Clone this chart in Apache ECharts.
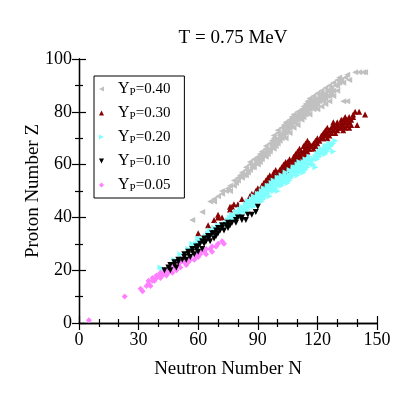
<!DOCTYPE html>
<html>
<head>
<meta charset="utf-8">
<script src="https://cdn.jsdelivr.net/npm/echarts@6/dist/echarts.min.js"></script>
<style>
html, body { margin: 0; padding: 0; background: #fff; }
#chart { width: 415px; height: 405px; }
</style>
</head>
<body>
<div id="chart"></div>
<script>
// Yp values shown in the legend
const ypNames = ['0.40', '0.30', '0.20', '0.10', '0.05'];

// [N, Z]
const yp040 = [[57,39],[62,42],[66,46],[68,46],[68,47],[70,48],[72,49],[72,50],[74,50],[75,51],[76,50],[76,52],[78,52],[78,54],[79,53],[80,54],[80,55],[81,56],[82,55],[82,57],[83,56],[84,56],[84,58],[84,59],[85,57],[86,58],[86,60],[86,61],[87,59],[88,59],[88,60],[88,62],[89,61],[90,60],[90,62],[90,63],[91,61],[91,64],[92,62],[92,63],[92,65],[93,64],[94,63],[94,65],[94,66],[94,67],[95,64],[96,65],[96,66],[96,68],[97,67],[97,69],[98,66],[98,68],[98,70],[98,71],[99,67],[99,69],[100,68],[100,70],[100,72],[100,73],[101,69],[101,71],[102,70],[102,72],[102,74],[103,71],[103,73],[103,75],[104,70],[104,72],[104,74],[104,76],[105,73],[105,75],[106,72],[106,74],[106,76],[106,77],[107,75],[107,78],[108,74],[108,76],[108,77],[108,79],[109,76],[109,78],[110,75],[110,77],[110,79],[110,80],[111,78],[111,80],[112,77],[112,79],[112,81],[113,78],[113,80],[113,82],[114,79],[114,81],[114,83],[115,80],[115,82],[115,84],[116,79],[116,81],[116,83],[116,85],[117,82],[117,84],[118,81],[118,83],[118,85],[118,86],[119,82],[119,84],[120,81],[120,83],[120,85],[120,87],[121,84],[121,86],[122,82],[122,85],[122,87],[122,88],[123,84],[123,86],[124,83],[124,85],[124,87],[124,89],[125,86],[125,88],[126,84],[126,86],[126,88],[126,90],[127,87],[127,89],[128,86],[128,88],[128,91],[129,90],[130,88],[130,90],[130,92],[131,91],[131,93],[132,92],[133,84],[133,91],[134,93],[135,84],[135,94],[136,92],[139,95],[141,95],[143,95],[144,95]];

const yp030 = [[60,34],[65,37],[68,39],[70,40],[70,41],[72,40],[76,43],[76,44],[77,44],[78,45],[80,45],[82,47],[84,46],[86,48],[87,47],[87,49],[88,48],[89,49],[89,50],[90,48],[90,50],[90,51],[91,49],[92,51],[92,52],[93,53],[94,52],[94,54],[95,53],[95,55],[96,52],[96,54],[96,56],[97,53],[97,55],[98,54],[98,56],[98,57],[99,55],[99,58],[100,56],[100,57],[101,56],[101,58],[102,57],[102,59],[103,58],[103,59],[103,60],[104,57],[104,59],[104,61],[105,58],[105,60],[105,61],[106,59],[106,60],[106,62],[107,61],[108,60],[108,62],[108,63],[109,61],[109,63],[109,64],[110,62],[110,63],[110,65],[111,63],[111,64],[111,66],[112,62],[112,64],[112,65],[113,63],[113,65],[113,67],[114,64],[114,66],[114,68],[115,65],[115,66],[115,67],[115,69],[116,66],[116,68],[117,67],[118,66],[118,68],[119,67],[119,69],[120,68],[120,70],[121,69],[122,70],[122,71],[123,70],[123,72],[124,71],[124,72],[124,73],[125,70],[125,72],[125,74],[126,71],[126,73],[127,72],[127,74],[128,73],[128,75],[128,76],[129,72],[129,74],[130,73],[130,75],[130,76],[131,74],[132,74],[132,75],[132,76],[132,77],[133,73],[133,75],[133,77],[134,74],[134,76],[134,78],[135,75],[135,77],[136,74],[136,76],[136,78],[137,75],[137,77],[138,78],[138,79],[139,80],[140,75],[141,80],[144,79]];

const yp020 = [[41,21],[42,20],[48,24],[51,26],[55,28],[57,29],[57,30],[59,30],[60,31],[60,32],[62,32],[64,33],[65,34],[66,33],[66,35],[68,34],[68,36],[70,35],[70,37],[71,36],[72,37],[74,37],[74,38],[75,39],[76,38],[76,40],[77,39],[77,41],[78,40],[79,41],[79,42],[80,40],[80,42],[81,41],[81,43],[82,42],[82,44],[83,43],[84,42],[84,44],[84,45],[85,43],[85,45],[85,46],[86,44],[86,46],[87,45],[87,47],[88,44],[88,46],[88,48],[89,45],[89,47],[90,46],[90,48],[90,49],[91,47],[91,49],[92,46],[92,48],[92,50],[93,47],[93,49],[93,51],[94,48],[94,50],[95,49],[95,51],[95,52],[96,48],[96,50],[96,52],[97,51],[97,53],[98,50],[98,52],[98,54],[99,51],[99,53],[100,50],[100,52],[100,54],[100,55],[101,53],[101,55],[102,52],[102,54],[102,56],[103,53],[103,55],[104,54],[104,56],[104,57],[105,53],[105,55],[106,54],[106,56],[106,58],[107,55],[107,57],[108,56],[108,58],[108,59],[109,57],[109,59],[110,56],[110,58],[110,60],[111,57],[111,59],[111,61],[112,58],[112,60],[113,57],[113,59],[113,61],[114,58],[114,60],[114,62],[115,59],[115,61],[116,60],[116,62],[116,63],[117,61],[118,60],[118,62],[119,59],[119,63],[120,62],[120,64],[121,63],[121,65],[122,64],[122,66],[123,65],[124,64],[124,66],[124,67],[125,65],[125,67],[126,66],[126,68],[127,67],[128,65],[128,68],[129,69]];

const yp010 = [[43,20],[45,21],[46,20],[46,22],[48,22],[48,23],[49,21],[50,23],[50,24],[52,24],[53,25],[53,26],[54,24],[55,26],[55,27],[56,25],[57,27],[57,28],[58,26],[59,28],[59,29],[60,27],[60,29],[61,30],[62,28],[62,31],[63,30],[63,32],[64,31],[65,32],[65,33],[66,31],[66,33],[67,34],[68,32],[68,34],[69,33],[69,35],[70,34],[70,36],[71,35],[72,36],[72,37],[73,35],[74,37],[75,36],[75,38],[76,37],[77,38],[79,38],[79,39],[80,40],[82,39],[82,40],[84,39],[85,41],[87,41],[89,42],[90,44]];

const yp005 = [[5,1],[23,10],[31,13],[32,12],[34,14],[35,15],[35,16],[36,14],[37,16],[37,17],[38,16],[39,17],[39,18],[40,18],[41,17],[41,19],[42,18],[43,19],[43,20],[44,18],[44,20],[45,19],[46,20],[46,21],[47,19],[48,21],[48,22],[49,20],[50,22],[51,21],[51,23],[53,23],[54,22],[54,24],[55,23],[56,24],[56,25],[58,24],[59,25],[59,26],[60,25],[61,26],[61,27],[63,27],[64,26],[64,28],[66,28],[67,27],[67,29],[69,29],[70,30],[72,31],[73,30]];

const xTicks = [0, 30, 60, 90, 120, 150];
const yTicks = [0, 20, 40, 60, 80, 100];

const font = 'Liberation Serif';
// triangle shapes pointing left / right / down
const triLeft = 'path://M0,5 L10,0 L10,10 Z';
const triRight = 'path://M10,5 L0,0 L0,10 Z';
const triDown = 'path://M0,0 L10,0 L5,10 Z';
const triUp = 'path://M5,0 L10,10 L0,10 Z';

const chart = echarts.init(document.getElementById('chart'));

function scatter(name, data, symbol, color, size, z) {
    return {
        name: name,
        type: 'scatter',
        data: data,
        symbol: symbol,
        symbolSize: size,
        itemStyle: { color: color, opacity: 1 },
        z: z
    };
}

const frameAxis = {
    type: 'value',
    axisLine: { show: true, lineStyle: { color: '#000', width: 1.3 } },
    axisTick: { show: true, inside: true, length: 7, lineStyle: { color: '#000', width: 1.2 } },
    minorTick: { show: true, length: 4, lineStyle: { color: '#000', width: 1.2 } },
    splitLine: { show: false }
};

let option = {
    animation: false,
    backgroundColor: '#fff',
    title: {
        text: 'T = 0.75 MeV',
        left: 228,
        top: 24,
        textAlign: 'center',
        textStyle: { fontFamily: font, fontSize: 19, fontWeight: 'normal', color: '#000' }
    },
    grid: { left: 79, right: 38, top: 59, bottom: 82 },
    legend: {
        orient: 'vertical',
        left: 94,
        top: 76,
        padding: [4, 14, 4, 5],
        itemGap: 6,
        itemWidth: 5,
        itemHeight: 5,
        borderColor: '#000',
        borderWidth: 1,
        data: ypNames,
        formatter: function (name) {
            return '{y|Y}{p|P}{v|=' + name + '}';
        },
        textStyle: {
            padding: [0, 0, 0, 9],
            rich: {
                y: { fontFamily: font, fontSize: 16, color: '#000', lineHeight: 18 },
                p: { fontFamily: font, fontSize: 11, color: '#000', lineHeight: 18, padding: [7, 0, 0, 0] },
                v: { fontFamily: font, fontSize: 15, color: '#000', lineHeight: 18 }
            }
        }
    },
    xAxis: [
        Object.assign({}, frameAxis, {
            min: 0, max: 150, interval: 30,
            minorTick: Object.assign({}, frameAxis.minorTick, { splitNumber: 3 }),
            name: 'Neutron Number N',
            nameLocation: 'middle',
            nameGap: 37,
            nameMoveOverlap: false,
            nameTextStyle: { fontFamily: font, fontSize: 19, color: '#000' },
            axisLabel: { fontFamily: font, fontSize: 18, color: '#000', margin: 8,
                formatter: v => xTicks.includes(v) ? String(v) : '' }
        }),
        Object.assign({}, frameAxis, {
            position: 'top',
            min: 0, max: 150, interval: 30,
            minorTick: Object.assign({}, frameAxis.minorTick, { splitNumber: 3 }),
            axisLabel: { show: false }
        })
    ],
    yAxis: [
        Object.assign({}, frameAxis, {
            min: 0, max: 100, interval: 20,
            minorTick: Object.assign({}, frameAxis.minorTick, { splitNumber: 2 }),
            name: 'Proton Number Z',
            nameLocation: 'middle',
            nameGap: 36,
            nameMoveOverlap: false,
            nameTextStyle: { fontFamily: font, fontSize: 19, color: '#000' },
            axisLabel: { fontFamily: font, fontSize: 18, color: '#000', margin: 7,
                formatter: v => yTicks.includes(v) ? String(v) : '' }
        }),
        Object.assign({}, frameAxis, {
            position: 'right',
            min: 0, max: 100, interval: 20,
            minorTick: Object.assign({}, frameAxis.minorTick, { splitNumber: 2 }),
            axisLabel: { show: false }
        })
    ],
    series: [
        scatter('0.40', yp040, triLeft, '#c0c0c0', 6, 2),
        scatter('0.30', yp030, triUp, '#8b0000', 6, 2),
        scatter('0.20', yp020, triRight, '#80ffff', 6, 2),
        scatter('0.05', yp005, 'diamond', '#ff80ff', 6, 2),
        scatter('0.10', yp010, triDown, '#000000', 6, 3)
    ]
};

option && chart.setOption(option);
</script>
</body>
</html>
